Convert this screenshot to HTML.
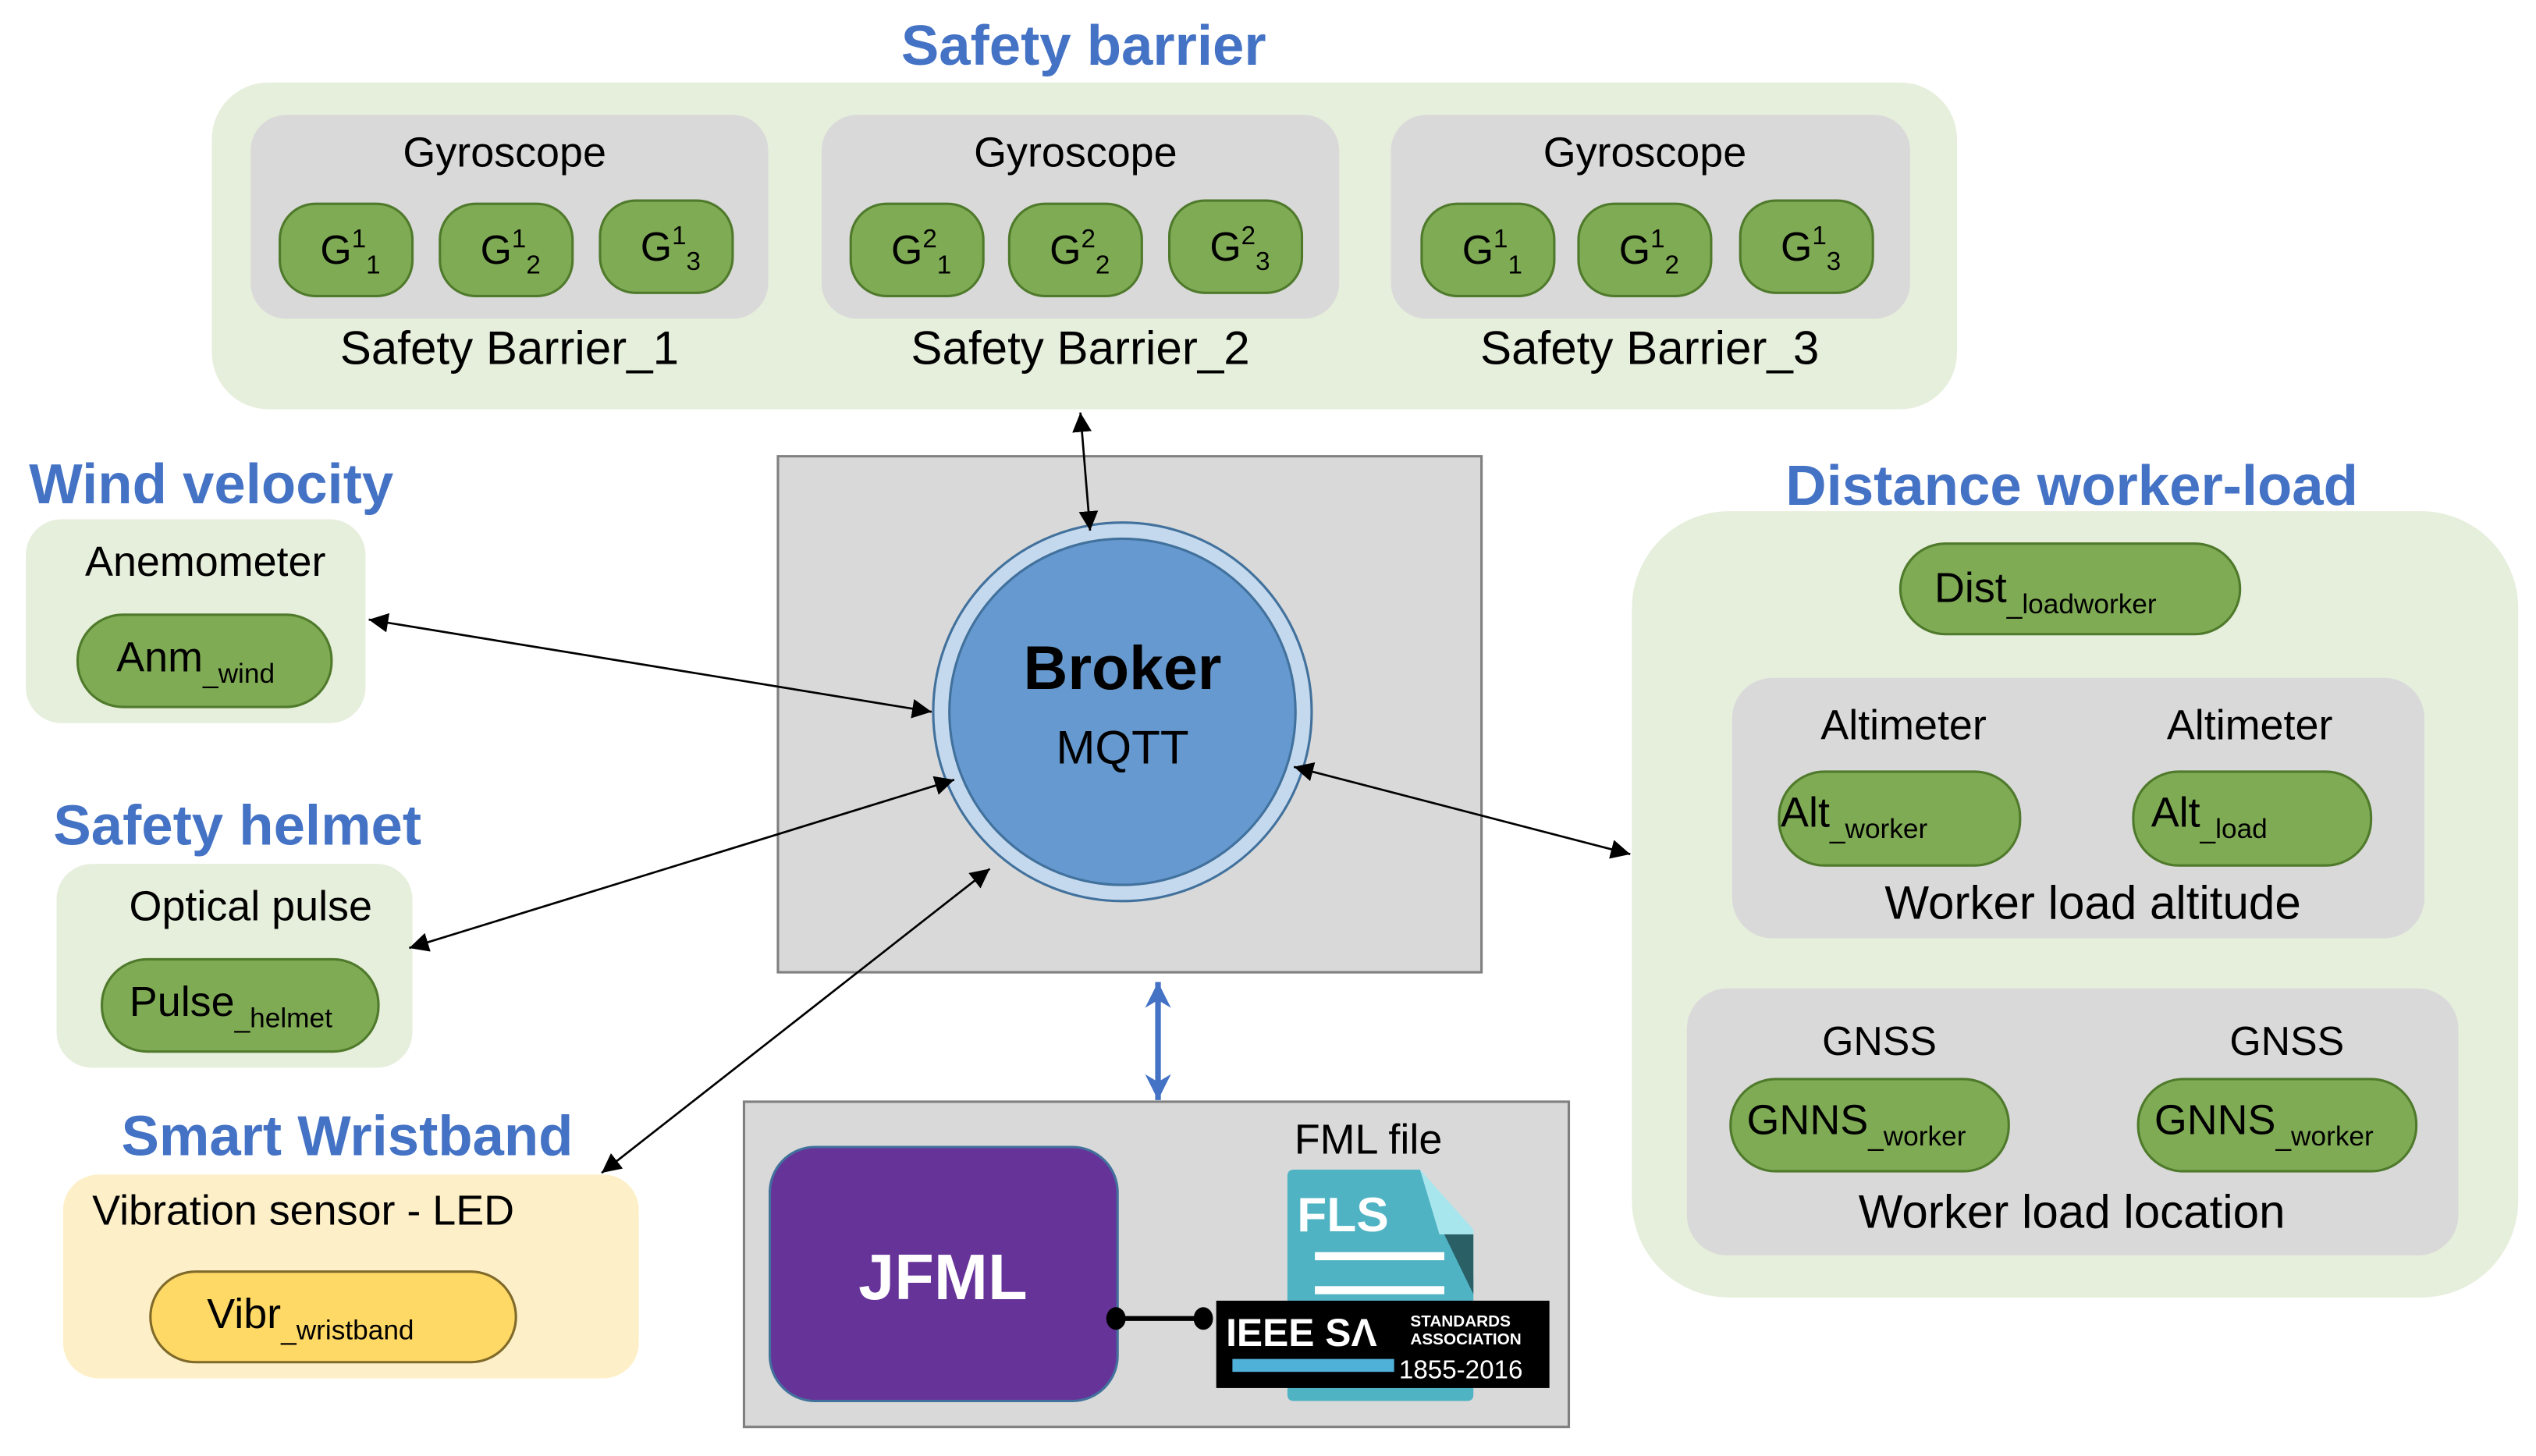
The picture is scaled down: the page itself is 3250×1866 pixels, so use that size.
<!DOCTYPE html>
<html><head><meta charset="utf-8"><style>
html,body{margin:0;padding:0;background:#fff}
svg{display:block}
text{font-family:"Liberation Sans",sans-serif}
</style></head><body>
<svg width="3250" height="1866" viewBox="0 0 1568 900" preserveAspectRatio="none" xmlns="http://www.w3.org/2000/svg">
<defs>
<marker id="ah" viewBox="0 0 10 10" refX="10" refY="5" markerWidth="12" markerHeight="12" markerUnits="userSpaceOnUse" orient="auto-start-reverse"><path d="M0,0 L10,5 L0,10 z" fill="#000"/></marker>
<marker id="bh" viewBox="0 0 10 10" refX="10" refY="5" markerWidth="24" markerHeight="16" markerUnits="userSpaceOnUse" orient="auto-start-reverse"><path d="M0,0 L10,5 L0,10 L3,5 z" fill="#4472C4"/></marker>
</defs>
<g font-weight="bold" fill="#4472C4" font-size="35">
<text x="670" y="40" text-anchor="middle">Safety barrier</text>
<text x="18" y="311">Wind velocity</text>
<text x="33" y="522">Safety helmet</text>
<text x="75" y="714">Smart Wristband</text>
<text x="1281" y="312" text-anchor="middle">Distance worker-load</text>
</g>
<rect x="131" y="51" width="1079" height="202" rx="35" fill="#E6EEDC"/>
<g fill="#D9D9D9">
<rect x="155" y="71" width="320" height="126" rx="22"/>
<rect x="508" y="71" width="320" height="126" rx="22"/>
<rect x="860" y="71" width="321" height="126" rx="22"/>
</g>
<g font-size="26" text-anchor="middle" fill="#000">
<text x="312" y="103">Gyroscope</text><text x="665" y="103">Gyroscope</text><text x="1017" y="103">Gyroscope</text>
</g>
<g fill="#80AB55" stroke="#4F7A2B" stroke-width="1.5">
<rect x="173" y="126" width="82" height="57" rx="22"/><rect x="272" y="126" width="82" height="57" rx="22"/><rect x="371" y="124" width="82" height="57" rx="22"/>
<rect x="526" y="126" width="82" height="57" rx="22"/><rect x="624" y="126" width="82" height="57" rx="22"/><rect x="723" y="124" width="82" height="57" rx="22"/>
<rect x="879" y="126" width="82" height="57" rx="22"/><rect x="976" y="126" width="82" height="57" rx="22"/><rect x="1076" y="124" width="82" height="57" rx="22"/>
</g>
<g font-size="25" fill="#000">
<text x="198" y="163">G<tspan font-size="16" dy="-10">1</tspan><tspan font-size="16" dy="16">1</tspan></text>
<text x="297" y="163">G<tspan font-size="16" dy="-10">1</tspan><tspan font-size="16" dy="16">2</tspan></text>
<text x="396" y="161">G<tspan font-size="16" dy="-10">1</tspan><tspan font-size="16" dy="16">3</tspan></text>
<text x="551" y="163">G<tspan font-size="16" dy="-10">2</tspan><tspan font-size="16" dy="16">1</tspan></text>
<text x="649" y="163">G<tspan font-size="16" dy="-10">2</tspan><tspan font-size="16" dy="16">2</tspan></text>
<text x="748" y="161">G<tspan font-size="16" dy="-10">2</tspan><tspan font-size="16" dy="16">3</tspan></text>
<text x="904" y="163">G<tspan font-size="16" dy="-10">1</tspan><tspan font-size="16" dy="16">1</tspan></text>
<text x="1001" y="163">G<tspan font-size="16" dy="-10">1</tspan><tspan font-size="16" dy="16">2</tspan></text>
<text x="1101" y="161">G<tspan font-size="16" dy="-10">1</tspan><tspan font-size="16" dy="16">3</tspan></text>
</g>
<g font-size="29" text-anchor="middle" fill="#000">
<text x="315" y="225">Safety Barrier_1</text><text x="668" y="225">Safety Barrier_2</text><text x="1020" y="225">Safety Barrier_3</text>
</g>
<rect x="481" y="282" width="435" height="319" fill="#D9D9D9" stroke="#808080" stroke-width="1.5"/>
<circle cx="694" cy="440" r="117" fill="#C5D9EE" stroke="#41719C" stroke-width="1.5"/>
<circle cx="694" cy="440" r="107" fill="#6699CF" stroke="#41719C" stroke-width="1.5"/>
<text x="694" y="426" font-size="38" font-weight="bold" text-anchor="middle">Broker</text>
<text x="694" y="472" font-size="29" text-anchor="middle">MQTT</text>
<rect x="16" y="321" width="210" height="126" rx="22" fill="#E6EEDC"/>
<text x="127" y="356" font-size="26" text-anchor="middle">Anemometer</text>
<rect x="48" y="380" width="157" height="57" rx="28" fill="#80AB55" stroke="#4F7A2B" stroke-width="1.5"/>
<text x="72" y="415" font-size="26">Anm<tspan font-size="17" dy="7">_wind</tspan></text>
<rect x="35" y="534" width="220" height="126" rx="22" fill="#E6EEDC"/>
<text x="155" y="569" font-size="26" text-anchor="middle">Optical pulse</text>
<rect x="63" y="593" width="171" height="57" rx="28" fill="#80AB55" stroke="#4F7A2B" stroke-width="1.5"/>
<text x="80" y="628" font-size="26">Pulse<tspan font-size="17" dy="7">_helmet</tspan></text>
<rect x="39" y="726" width="356" height="126" rx="22" fill="#FDF0C8"/>
<text x="57" y="757" font-size="26">Vibration sensor - LED</text>
<rect x="93" y="786" width="226" height="56" rx="28" fill="#FFD966" stroke="#7F6A2A" stroke-width="1.5"/>
<text x="128" y="821" font-size="26">Vibr<tspan font-size="17" dy="7">_wristband</tspan></text>
<rect x="1009" y="316" width="548" height="486" rx="60" fill="#E6EEDC"/>
<rect x="1175" y="336" width="210" height="56" rx="28" fill="#80AB55" stroke="#4F7A2B" stroke-width="1.5"/>
<text x="1196" y="372" font-size="26">Dist<tspan font-size="17" dy="7">_loadworker</tspan></text>
<rect x="1071" y="419" width="428" height="161" rx="25" fill="#D9D9D9"/>
<text x="1177" y="457" font-size="26" text-anchor="middle">Altimeter</text>
<text x="1391" y="457" font-size="26" text-anchor="middle">Altimeter</text>
<rect x="1100" y="477" width="149" height="58" rx="28" fill="#80AB55" stroke="#4F7A2B" stroke-width="1.5"/>
<rect x="1319" y="477" width="147" height="58" rx="28" fill="#80AB55" stroke="#4F7A2B" stroke-width="1.5"/>
<text x="1101" y="511" font-size="26">Alt<tspan font-size="17" dy="7">_worker</tspan></text>
<text x="1330" y="511" font-size="26">Alt<tspan font-size="17" dy="7">_load</tspan></text>
<text x="1294" y="568" font-size="29" text-anchor="middle">Worker load altitude</text>
<rect x="1043" y="611" width="477" height="165" rx="25" fill="#D9D9D9"/>
<text x="1162" y="652" font-size="25" text-anchor="middle">GNSS</text>
<text x="1414" y="652" font-size="25" text-anchor="middle">GNSS</text>
<rect x="1070" y="667" width="172" height="57" rx="28" fill="#80AB55" stroke="#4F7A2B" stroke-width="1.5"/>
<rect x="1322" y="667" width="172" height="57" rx="28" fill="#80AB55" stroke="#4F7A2B" stroke-width="1.5"/>
<text x="1080" y="701" font-size="26">GNNS<tspan font-size="17" dy="7">_worker</tspan></text>
<text x="1332" y="701" font-size="26">GNNS<tspan font-size="17" dy="7">_worker</tspan></text>
<text x="1281" y="759" font-size="29" text-anchor="middle">Worker load location</text>
<rect x="460" y="681" width="510" height="201" fill="#D9D9D9" stroke="#808080" stroke-width="1.5"/>
<rect x="476" y="709" width="215" height="157" rx="28" fill="#663399" stroke="#41719C" stroke-width="1.5"/>
<text x="583" y="803" font-size="40" font-weight="bold" fill="#fff" text-anchor="middle">JFML</text>
<text x="846" y="713" font-size="26" text-anchor="middle">FML file</text>
<path d="M800,723 L878,723 L911,789 L911,862 Q911,866 907,866 L800,866 Q796,866 796,862 L796,727 Q796,723 800,723z" fill="#4FB3C3"/>
<path d="M878,723 L911,789 L911,760 z" fill="#A8E6EE"/>
<path d="M878,723 L890,763 L911,763 z" fill="#A8E6EE"/>
<path d="M893,763 L911,763 L911,800 z" fill="#2A5F66"/>
<text x="802" y="761" font-size="30" font-weight="bold" fill="#fff">FLS</text>
<rect x="813" y="774" width="80" height="5" fill="#fff"/>
<rect x="813" y="795" width="80" height="5" fill="#fff"/>
<rect x="752" y="804" width="206" height="54" fill="#000"/>
<text x="758" y="832" font-size="24" font-weight="bold" fill="#fff">IEEE SΛ</text>
<text x="872" y="820" font-size="10" font-weight="bold" fill="#fff">STANDARDS</text>
<text x="872" y="831" font-size="10" font-weight="bold" fill="#fff">ASSOCIATION</text>
<rect x="762" y="840" width="100" height="8" fill="#4FB0D8"/>
<text x="865" y="852" font-size="16" fill="#fff">1855-2016</text>
<line x1="690" y1="815" x2="744" y2="815" stroke="#000" stroke-width="3"/>
<ellipse cx="690" cy="815" rx="6" ry="7" fill="#000"/>
<ellipse cx="744" cy="815" rx="6" ry="7" fill="#000"/>
<g stroke="#000" stroke-width="1.3" fill="none">
<line x1="668" y1="255" x2="674" y2="328" marker-start="url(#ah)" marker-end="url(#ah)"/>
<line x1="228" y1="383" x2="576" y2="440" marker-start="url(#ah)" marker-end="url(#ah)"/>
<line x1="590" y1="482" x2="253" y2="586" marker-start="url(#ah)" marker-end="url(#ah)"/>
<line x1="612" y1="537" x2="372" y2="725" marker-start="url(#ah)" marker-end="url(#ah)"/>
<line x1="800" y1="474" x2="1008" y2="528" marker-start="url(#ah)" marker-end="url(#ah)"/>
</g>
<line x1="716" y1="607" x2="716" y2="680" stroke="#4472C4" stroke-width="3.5" marker-start="url(#bh)" marker-end="url(#bh)"/>
</svg>
</body></html>
